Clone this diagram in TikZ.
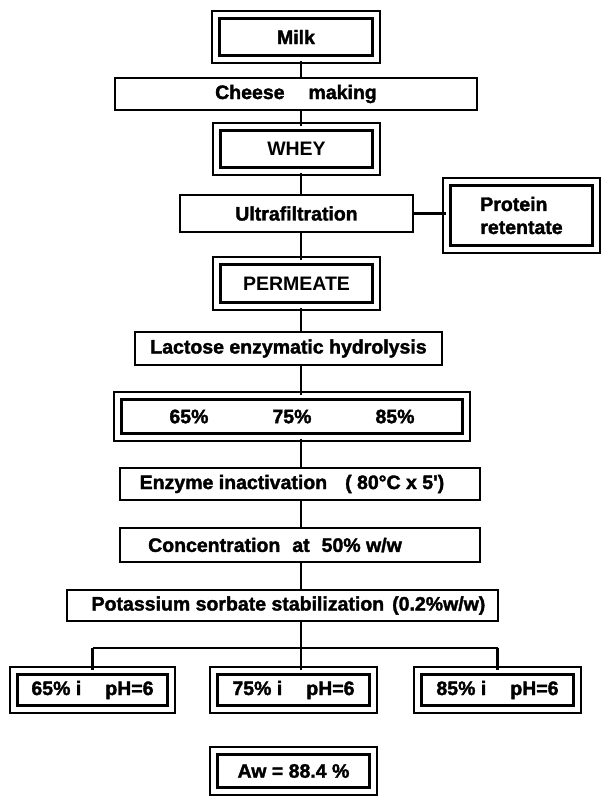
\documentclass[tikz,border=0pt]{standalone}
\usepackage{fontspec}
\setmainfont{Liberation Sans}[BoldFeatures={FakeBold=1.8}]
\newfontfamily\plainbold{Liberation Sans Bold}
\begin{document}
\begin{tikzpicture}[x=1pt,y=-1pt,
  every node/.style={font=\fontsize{19.5}{23}\selectfont\bfseries, inner sep=0pt, align=center},
  single/.style={draw, rectangle, line width=2.5pt},
  dbl/.style={draw, rectangle, line width=2.5pt, double, double distance=4.6pt},
  conn/.style={line width=2.5pt}]
\useasboundingbox (0,0) rectangle (605,796);
\coordinate (spine) at (301,0);
\coordinate (bus) at (0,648);

\node[dbl, minimum width=160.5pt, minimum height=44.5pt] (milk) at (296,37) {Milk};
\node[single, minimum width=362pt, minimum height=32pt] (cheese) at (296,94) {Cheese\hspace{24pt}making};
\node[dbl, minimum width=159.5pt, minimum height=44.5pt] (whey) at (296.5,149) {\plainbold WHEY};
\node[single, minimum width=233pt, minimum height=37pt] (ultra) at (296.5,213.5) {Ultrafiltration};
\node[dbl, minimum width=149.5pt, minimum height=67.5pt, align=left] (protein) at (521.5,215.5) {Protein\\retentate};
\node[dbl, minimum width=159.5pt, minimum height=45.5pt] (permeate) at (296.5,283.5) {\plainbold PERMEATE};
\node[single, minimum width=307pt, minimum height=33pt] (lactose) at (288.5,348.5) {Lactose enzymatic hydrolysis};
\node[dbl, minimum width=348.5pt, minimum height=41.5pt] (pct) at (292,416.5) {65\%\hspace{64pt}75\%\hspace{64pt}85\%};
\node[single, minimum width=360pt, minimum height=32pt] (enzyme) at (300,484) {Enzyme inactivation\hspace{18pt}( 80°C x 5\textquotesingle)\hspace{16pt}};
\node[single, minimum width=360pt, minimum height=34pt] (conc) at (300,545) {Concentration\hspace{12pt}at\hspace{12pt}50\% w/w\hspace{50pt}};
\node[single, minimum width=431pt, minimum height=31pt] (pot) at (282.5,605.5) {\hspace{12pt}Potassium sorbate stabilization\hspace{8pt}(0.2\%w/w)};
\node[dbl, minimum width=157.5pt, minimum height=38.5pt] (b1) at (92.5,690) {65\% i\hspace{24pt}pH=6};
\node[dbl, minimum width=159.5pt, minimum height=38.5pt] (b2) at (293.5,690) {75\% i\hspace{24pt}pH=6};
\node[dbl, minimum width=159.5pt, minimum height=38.5pt] (b3) at (497.5,690) {85\% i\hspace{24pt}pH=6};
\node[dbl, minimum width=159.5pt, minimum height=40.5pt] (aw) at (293.5,771) {Aw = 88.4 \%};

\draw[conn] (milk.south -| spine) -- (cheese.north -| spine);
\draw[conn] (cheese.south -| spine) -- (whey.north -| spine);
\draw[conn] (whey.south -| spine) -- (ultra.north -| spine);
\draw[conn] (ultra.south -| spine) -- (permeate.north -| spine);
\draw[conn] (permeate.south -| spine) -- (lactose.north -| spine);
\draw[conn] (lactose.south -| spine) -- (pct.north -| spine);
\draw[conn] (pct.south -| spine) -- (enzyme.north -| spine);
\draw[conn] (enzyme.south -| spine) -- (conc.north -| spine);
\draw[conn] (conc.south -| spine) -- (pot.north -| spine);
\draw[conn] (ultra.east) -- (ultra.east -| protein.west);
\draw[conn] (pot.south -| spine) -- (spine |- bus);
\draw[conn] (b1.north |- bus) -- (b3.north |- bus);
\draw[conn] (b1.north |- bus) -- (b1.north);
\draw[conn] (spine |- bus) -- (spine |- b2.north);
\draw[conn] (b3.north |- bus) -- (b3.north);
\end{tikzpicture}
\end{document}
